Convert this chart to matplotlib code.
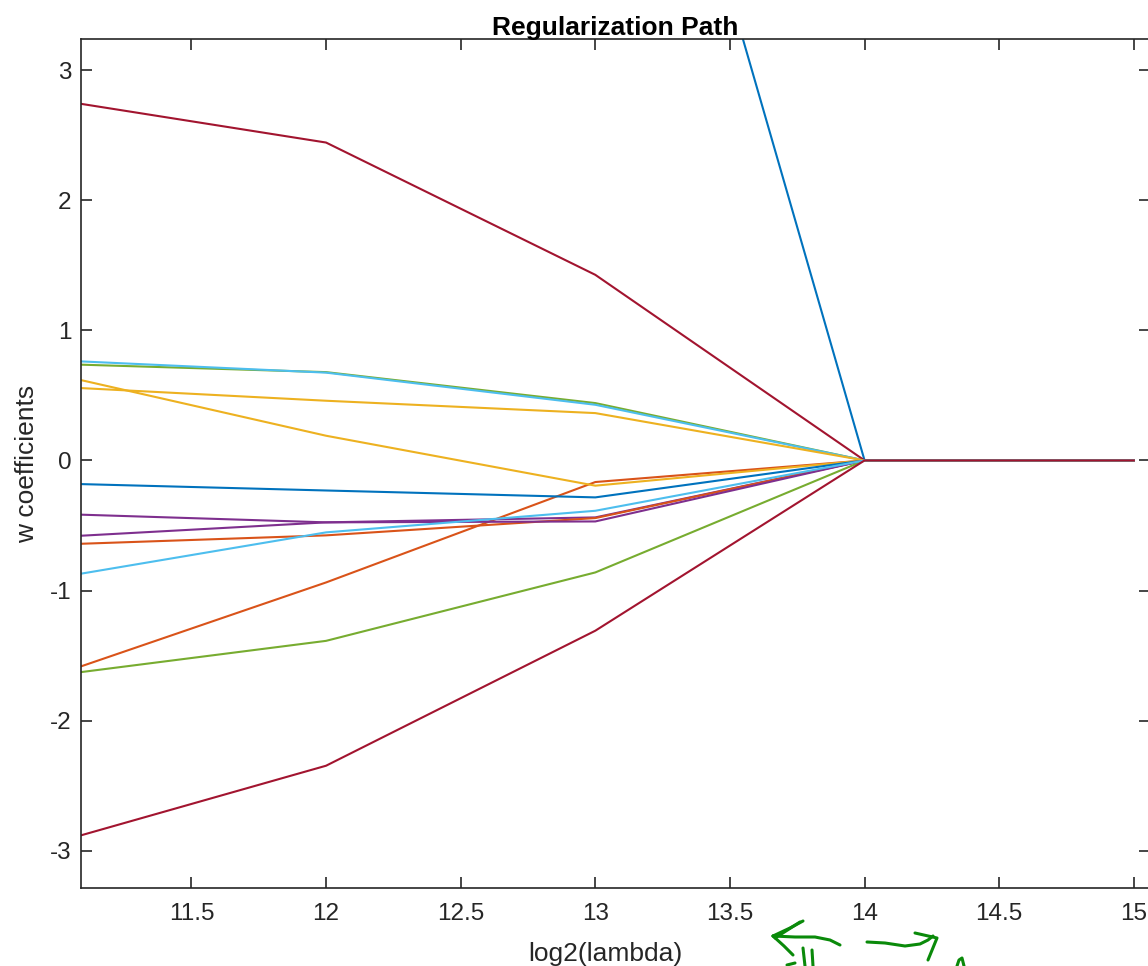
import matplotlib
matplotlib.use("Agg")
import matplotlib.pyplot as plt
from matplotlib.lines import Line2D

plt.rcParams['font.family'] = ['Liberation Sans', 'DejaVu Sans']

# log2(lambda) values
log2_lambda = [11, 12, 13, 14, 15]

# regularization path, one list per coefficient (MATLAB default colour order)
w01 = [16.0, 11.5, 7.17, 0.0, 0.0]          # blue (runs off the top)
w02 = [-1.647, -0.938, -0.166, 0.0, 0.0]     # orange
w03 = [0.660, 0.190, -0.194, 0.0, 0.0]      # yellow
w04 = [-0.411, -0.476, -0.438, 0.0, 0.0]    # purple
w05 = [0.742, 0.679, 0.441, 0.0, 0.0]       # green
w06 = [0.770, 0.675, 0.428, 0.0, 0.0]       # light blue
w07 = [2.771, 2.444, 1.427, 0.0, 0.0]       # dark red
w08 = [-0.177, -0.231, -0.284, 0.0, 0.0]    # blue
w09 = [-0.647, -0.576, -0.443, 0.0, 0.0]    # orange
w10 = [0.566, 0.459, 0.364, 0.0, 0.0]       # yellow
w11 = [-0.589, -0.476, -0.469, 0.0, 0.0]    # purple
w12 = [-1.651, -1.387, -0.861, 0.0, 0.0]    # green
w13 = [-0.902, -0.553, -0.387, 0.0, 0.0]    # light blue
w14 = [-2.935, -2.347, -1.309, 0.0, 0.0]    # dark red

series = [w01, w02, w03, w04, w05, w06, w07, w08, w09, w10, w11, w12, w13, w14]
colors = ['#0072BD', '#D95319', '#EDB120', '#7E2F8E', '#77AC30', '#4DBEEE', '#A2142F']

xticks = [11.5, 12, 12.5, 13, 13.5, 14, 14.5, 15]
xtick_labels = ['11.5', '12', '12.5', '13', '13.5', '14', '14.5', '15']
yticks = [-3, -2, -1, 0, 1, 2, 3]
ytick_labels = ['-3', '-2', '-1', '0', '1', '2', '3']

W, H = 1148, 966
fig = plt.figure(figsize=(W / 100, H / 100), dpi=100)
L, R, T, B = 81, 1150, 39, 888
ax = fig.add_axes([L / W, 1 - B / H, (R - L) / W, (B - T) / H])

for i, s in enumerate(series):
    ax.plot(log2_lambda, s, color=colors[i % len(colors)], lw=1.5, solid_joinstyle='miter')

ax.set_xlim(11.09, 15.06)
ax.set_ylim(-3.287, 3.24)
ax.set_xticks(xticks)
ax.set_xticklabels(xtick_labels)
ax.set_yticks(yticks)
ax.set_yticklabels(ytick_labels)

axcol = '#262626'
for sp in ax.spines.values():
    sp.set_color(axcol)
    sp.set_linewidth(1.2)
ax.tick_params(direction='in', length=8, width=1.2, color=axcol, labelcolor=axcol,
               labelsize=17.5, top=True, right=True)
ax.tick_params(axis='x', pad=11)
ax.tick_params(axis='y', pad=7)

ax.set_title('Regularization Path', fontsize=19, fontweight='bold', color='black', pad=3)
ax.set_xlabel('log2(lambda)', fontsize=19, color=axcol)
ax.set_ylabel('w coefficients', fontsize=19, color=axcol)
ax.yaxis.set_label_coords((39 - L) / (R - L), 0.5)
ax.xaxis.set_label_coords((605 - L) / (R - L), (B - 942) / (B - T))

# hand-drawn green pen strokes (annotation on the screenshot), pixel coords
strokes = [
    [(840, 945), (830, 940), (815, 937), (795, 937), (773, 936)],
    [(773, 936), (790, 928), (803, 921)],
    [(775, 938), (800, 922)],
    [(773, 936), (784, 946), (793, 955)],
    [(803, 948), (805, 966)],
    [(812, 950), (813, 966)],
    [(787, 965), (795, 963)],
    [(867, 942), (885, 943), (905, 946), (920, 944), (928, 940), (933, 936)],
    [(915, 933), (937, 938), (928, 960)],
    [(957, 966), (959, 960), (962, 958), (964, 966)],
]
for st in strokes:
    xs = [p[0] / W for p in st]
    ys = [1 - p[1] / H for p in st]
    fig.add_artist(Line2D(xs, ys, transform=fig.transFigure, color='#0A8A0A', lw=2.2,
                          solid_capstyle='round', solid_joinstyle='round'))

fig.savefig('out.png', dpi=100)
